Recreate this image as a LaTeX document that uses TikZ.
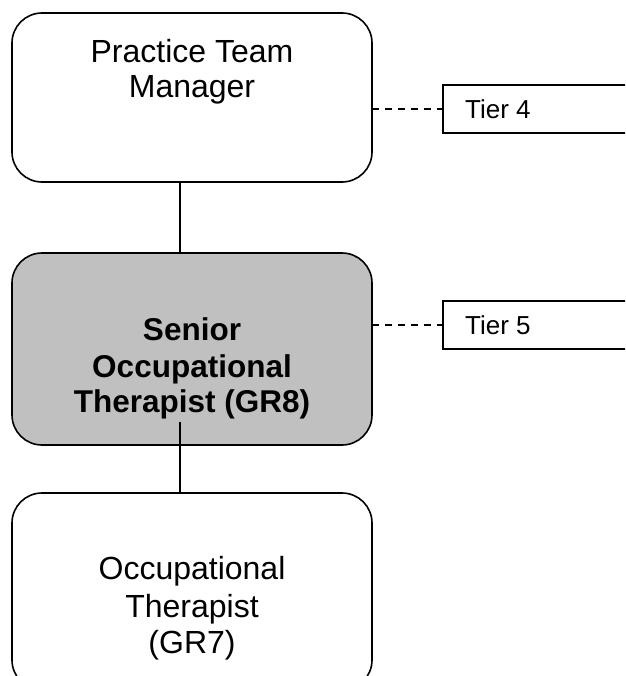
\documentclass[tikz,border=0pt]{standalone}
\usepackage{fontspec}
\setmainfont{Liberation Sans}
\begin{document}
\begin{tikzpicture}[x=1pt,y=-1pt,
  box/.style={draw=black,line width=1.6pt,rounded corners=30pt,minimum width=360pt,inner sep=0pt,outer sep=0pt},
  tierbox/.style={draw=black,line width=1.4pt,minimum width=260pt,minimum height=48pt,anchor=west,inner sep=0pt,outer sep=0pt},
  bigtxt/.style={anchor=base,inner sep=0pt,font=\fontsize{32}{36}\selectfont},
  boldtxt/.style={anchor=base,inner sep=0pt,font=\fontsize{31.5}{36}\selectfont\bfseries},
  tiertxt/.style={anchor=base west,inner sep=0pt,font=\fontsize{26}{30}\selectfont},
  conn/.style={line width=1.8pt,draw=black},
  dashconn/.style={line width=1.4pt,draw=black,dash pattern=on 7pt off 6pt}]
\useasboundingbox (0,0) rectangle (625,676);
\path[clip] (0,0) rectangle (625,676);
% boxes
\node[box,minimum height=169pt] (top) at (192,97.5) {};
\node[box,minimum height=192pt,fill={rgb,255:red,192;green,192;blue,192}] (mid) at (192,349) {};
\node[box,minimum height=197pt] (bot) at (192,591.5) {};
% tier boxes
\node[tierbox] (tier4) at (443,109) {};
\node[tierbox] (tier5) at (443,325) {};
% texts
\node[bigtxt] (t1a) at (192,63) {Practice Team};
\node[bigtxt] (t1b) at (192,98) {Manager};
\node[boldtxt] (t2a) at (192,340) {Senior};
\node[boldtxt] (t2b) at (192,377) {Occupational};
\node[boldtxt] (t2c) at (192,412) {Therapist (GR8)};
\begin{scope}
\path[clip] (0,0) rectangle (625,659);
\node[bigtxt] (t3a) at (192,579) {Occupational};
\node[bigtxt] (t3b) at (192,617) {Therapist};
\node[bigtxt] (t3c) at (192,653) {(GR7)};
\end{scope}
\node[tiertxt] (l4) at (465,118.5) {Tier 4};
\node[tiertxt] (l5) at (465,334.5) {Tier 5};
% connectors
\draw[conn] ([xshift=-12pt]top.south) -- ([xshift=-12pt]mid.north);
\coordinate (c1) at (180,422);
\draw[conn] (c1) -- (c1 |- bot.north);
\draw[dashconn] (top.east |- tier4.west) -- (tier4.west);
\draw[dashconn] (mid.east |- tier5.west) -- (tier5.west);
\end{tikzpicture}
\end{document}
